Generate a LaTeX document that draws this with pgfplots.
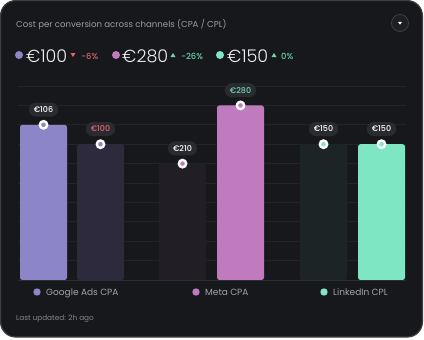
\documentclass[border=0pt]{standalone}
\usepackage{pgfplots}
\pgfplotsset{compat=1.18}
\usepackage{fontspec}
\setmainfont{Poppins}
\newfontfamily\kpifont{Poppins}[UprightFont={* Light}]
\newfontfamily\medfont{Poppins}[UprightFont={* Medium}]
\definecolor{card}{HTML}{17181C}
\definecolor{cardborder}{HTML}{3E3F44}
\definecolor{gridc}{HTML}{232428}
\definecolor{basec}{HTML}{2C2D32}
\definecolor{gpurple}{HTML}{8C85C8}
\definecolor{gpurpledim}{HTML}{2E2A3D}
\definecolor{mpink}{HTML}{C07ABE}
\definecolor{mpinkdim}{HTML}{221E25}
\definecolor{lmint}{HTML}{7EE6C3}
\definecolor{lmintdim}{HTML}{1D2425}
\definecolor{pillc}{HTML}{2A2B30}
\definecolor{lred}{HTML}{E0646E}
\definecolor{lgreen}{HTML}{6FD3A8}
\definecolor{titlec}{HTML}{9C9CA4}
\definecolor{legc}{HTML}{A3A3AA}
\definecolor{updc}{HTML}{86868C}
\definecolor{kpic}{HTML}{EDEDF0}
\definecolor{btnfill}{HTML}{1E1F23}
\tikzset{pillnode/.style={anchor=south, yshift=8bp, fill=pillc, rounded corners=7bp, inner xsep=5bp, inner ysep=0pt, minimum height=14bp, font=\medfont\fontsize{8bp}{9bp}\selectfont}}
\begin{document}
\begin{tikzpicture}[x=1bp,y=1bp]
\fill[white] (0,0) rectangle (424,-340);
\draw[fill=card, draw=cardborder, line width=1.2bp, rounded corners=15bp] (0.6,-0.6) rectangle (422.4,-337);
% title
\node[anchor=base west, inner sep=0, text=titlec, font=\fontsize{8.6bp}{10bp}\selectfont] at (16,-27) {Cost per conversion across channels (CPA / CPL)};
% dropdown button
\draw[fill=btnfill, draw=cardborder, line width=0.8bp] (400,-23) circle (8.5);
\fill[white] (398,-21.8) -- (402,-21.8) -- (400,-24.6) -- cycle;
% KPI row
\fill[gpurple] (19,-55) circle (4);
\node[anchor=base west, inner sep=0, text=kpic, font=\kpifont\fontsize{17.5bp}{20bp}\selectfont] at (26,-62) {€100};
\fill[lred] (70.5,-53) -- (75.5,-53) -- (73,-57) -- cycle;
\node[anchor=base west, inner sep=0, text=lred, font=\medfont\fontsize{8.4bp}{10bp}\selectfont] at (81,-59) {-6\%};
\fill[mpink] (116,-55) circle (4);
\node[anchor=base west, inner sep=0, text=kpic, font=\kpifont\fontsize{17.5bp}{20bp}\selectfont] at (122,-62) {€280};
\fill[lgreen] (170.5,-57) -- (175.5,-57) -- (173,-53) -- cycle;
\node[anchor=base west, inner sep=0, text=lgreen, font=\medfont\fontsize{8.4bp}{10bp}\selectfont] at (181,-59) {-26\%};
\fill[lmint] (220,-55) circle (4);
\node[anchor=base west, inner sep=0, text=kpic, font=\kpifont\fontsize{17.5bp}{20bp}\selectfont] at (227,-62) {€150};
\fill[lgreen] (271.5,-57) -- (276.5,-57) -- (274,-53) -- cycle;
\node[anchor=base west, inner sep=0, text=lgreen, font=\medfont\fontsize{8.4bp}{10bp}\selectfont] at (281,-59) {0\%};
% chart
\begin{axis}[
  at={(18bp,-280bp)}, anchor=south west,
  scale only axis, width=388bp, height=194bp,
  xmin=0, xmax=388, ymin=0, ymax=10,
  axis line style={draw=none}, tick style={draw=none},
  xtick=\empty, ytick={1,...,10}, yticklabels={},
  ymajorgrids, grid style={draw=gridc, line width=0.7bp},
  clip=false,
  bar width=47, bar shift=0pt,
]
\addplot[ybar, fill=gpurple, draw=none, rounded corners=2.5bp] coordinates {(25.5,8)};
\addplot[ybar, fill=gpurpledim, draw=none, rounded corners=2.5bp] coordinates {(82.5,7)};
\addplot[ybar, fill=mpinkdim, draw=none, rounded corners=2.5bp] coordinates {(164.5,6)};
\addplot[ybar, fill=mpink, draw=none, rounded corners=2.5bp] coordinates {(222.5,9)};
\addplot[ybar, fill=lmintdim, draw=none, rounded corners=2.5bp] coordinates {(305.5,7)};
\addplot[ybar, fill=lmint, draw=none, rounded corners=2.5bp] coordinates {(363.5,7)};
\draw[basec, line width=0.8bp] (axis cs:0,0) -- (axis cs:388,0);
% markers
\addplot[only marks, mark=*, mark size=3.7bp, mark options={fill=gpurple, draw=white, line width=2.4bp, solid}] coordinates {(25.5,8) (82.5,7)};
\addplot[only marks, mark=*, mark size=3.7bp, mark options={fill=mpink, draw=white, line width=2.4bp, solid}] coordinates {(164.5,6) (222.5,9)};
\addplot[only marks, mark=*, mark size=3.7bp, mark options={fill=lmint, draw=white, line width=2.4bp, solid}] coordinates {(305.5,7) (363.5,7)};
% labels
\addplot[draw=none, mark=none, point meta=explicit symbolic,
  nodes near coords, every node near coord/.append style={pillnode, text=white}]
  coordinates {(25.5,8) [€106] (164.5,6) [€210] (305.5,7) [€150] (363.5,7) [€150]};
\addplot[draw=none, mark=none, point meta=explicit symbolic,
  nodes near coords, every node near coord/.append style={pillnode, text=lred}]
  coordinates {(82.5,7) [€100]};
\addplot[draw=none, mark=none, point meta=explicit symbolic,
  nodes near coords, every node near coord/.append style={pillnode, text=lgreen}]
  coordinates {(222.5,9) [€280]};
\end{axis}
% legend
\fill[gpurple] (37,-292) circle (3.7);
\node[anchor=base west, inner sep=0, text=legc, font=\fontsize{9bp}{11bp}\selectfont] at (46,-295.5) {Google Ads CPA};
\fill[mpink] (196,-292) circle (3.7);
\node[anchor=base west, inner sep=0, text=legc, font=\fontsize{9bp}{11bp}\selectfont] at (205,-295.5) {Meta CPA};
\fill[lmint] (324,-292) circle (3.7);
\node[anchor=base west, inner sep=0, text=legc, font=\fontsize{9bp}{11bp}\selectfont] at (333,-295.5) {LinkedIn CPL};
\node[anchor=base west, inner sep=0, text=updc, font=\fontsize{7.3bp}{9bp}\selectfont] at (16,-320.5) {Last updated: 2h ago};
\end{tikzpicture}
\end{document}
